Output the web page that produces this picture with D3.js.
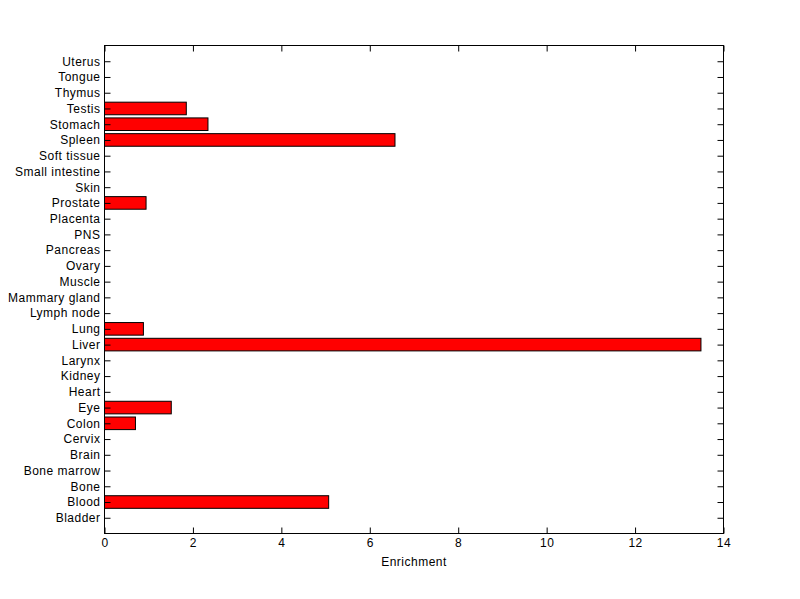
<!DOCTYPE html>
<html><head><meta charset="utf-8">
<script src="https://cdn.jsdelivr.net/npm/d3@7"></script>
<style>body{margin:0;background:#fff}svg{display:block}text{font-family:"Liberation Sans",Arial,sans-serif;font-size:12px;fill:#000;letter-spacing:0.5px}</style>
</head><body>
<svg id="c" width="800" height="599"></svg>
<script>
const categories = ["Bladder","Blood","Bone","Bone marrow","Brain","Cervix","Colon","Eye","Heart","Kidney","Larynx","Liver","Lung","Lymph node","Mammary gland","Muscle","Ovary","Pancreas","PNS","Placenta","Prostate","Skin","Small intestine","Soft tissue","Spleen","Stomach","Testis","Thymus","Tongue","Uterus"];
const values = [0,5.07,0,0,0,0,0.70,1.51,0,0,0,13.49,0.88,0,0,0,0,0,0,0,0.94,0,0,0,6.57,2.34,1.85,0,0,0];
const xTicks = [0,2,4,6,8,10,12,14];
const xLabel = "Enrichment";

const svg = d3.select("#c");
const L=104.5, R=723.5, T=45.5, B=533.5;
const x = d3.scaleLinear().domain([0,14]).range([L,R]);
const y = d3.scaleLinear().domain([0,categories.length+1]).range([B,T]);
const bh = (y(0)-y(0.8));

const data = categories.map((c,i)=>({c,v:values[i],p:i+1}));
svg.append("g").selectAll("rect").data(data.filter(d=>d.v>0)).join("rect")
  .attr("x",x(0)).attr("y",d=>y(d.p)-bh/2)
  .attr("width",d=>x(d.v)-x(0)).attr("height",bh)
  .attr("fill","#ff0000").attr("stroke","#000").attr("stroke-width",1);

// frame
svg.append("rect").attr("x",L).attr("y",T).attr("width",R-L).attr("height",B-T)
  .attr("fill","none").attr("stroke","#000").attr("stroke-width",1);

// x axis bottom
const xb = svg.append("g").attr("transform",`translate(0,${B})`)
  .call(d3.axisBottom(x).tickValues(xTicks).tickSizeInner(-6).tickSizeOuter(0).tickPadding(5).tickFormat(d3.format("d")));
xb.select(".domain").remove();
xb.selectAll("text").style("font-size","12px");
const xt = svg.append("g").attr("transform",`translate(0,${T})`)
  .call(d3.axisTop(x).tickValues(xTicks).tickSizeInner(-6).tickSizeOuter(0).tickFormat(""));
xt.select(".domain").remove();

// y axis
const yl = svg.append("g").attr("transform",`translate(${L},0)`)
  .call(d3.axisLeft(y).tickValues(d3.range(1,categories.length+1)).tickSizeInner(-6).tickSizeOuter(0).tickPadding(4).tickFormat(d=>categories[d-1]));
yl.select(".domain").remove();
yl.selectAll("text").style("font-size","12px");
const yr = svg.append("g").attr("transform",`translate(${R},0)`)
  .call(d3.axisRight(y).tickValues(d3.range(1,categories.length+1)).tickSizeInner(-6).tickSizeOuter(0).tickFormat(""));
yr.select(".domain").remove();

svg.append("text").attr("x",(L+R)/2).attr("y",566).attr("text-anchor","middle").text(xLabel);
</script>
</body></html>
